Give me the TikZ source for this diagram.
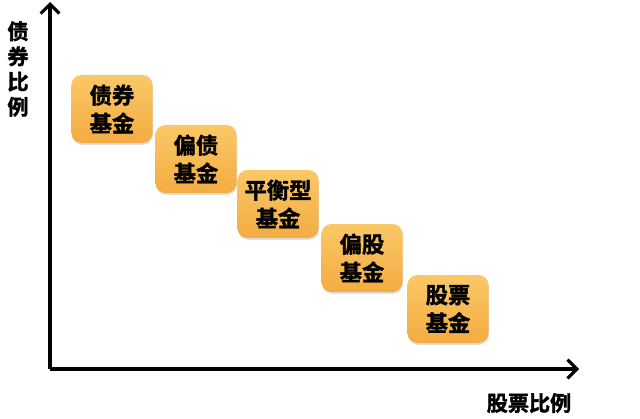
\documentclass[tikz,border=0pt]{standalone}
\usepackage{fontspec}
\newfontfamily\cjk{Noto Sans CJK SC}[BoldFont={Noto Sans CJK SC Bold}, BoldFeatures={FakeBold=1.8}]
\usetikzlibrary{arrows.meta,shadows}
\definecolor{boxtop}{HTML}{FAC866}
\definecolor{boxbot}{HTML}{F3AC42}
\begin{document}
\begin{tikzpicture}[x=0.03cm, y=-0.03cm,
    fund/.style={rounded corners=0.3cm, top color=boxtop, bottom color=boxbot,
        minimum width=2.43cm, minimum height=2.04cm, align=center,
        font=\cjk\bfseries\fontsize{19}{24}\selectfont,
        drop shadow={opacity=0.25, shadow xshift=0.5pt, shadow yshift=-1.5pt}},
    axis/.style={line width=3pt, -{Straight Barb[length=8pt, width=16pt, line width=2.6pt]}},
    axlabel/.style={align=center, font=\cjk\bfseries\fontsize{18}{21.5}\selectfont}]
    \useasboundingbox (0,0) rectangle (640,419);

    \coordinate (o) at (50,369);
    \coordinate (ytip) at (50,2);
    \coordinate (xtip) at (579,369);
    \draw[axis] (o) -- (ytip);
    \draw[axis] (o) -- (xtip);

    \node[axlabel] (ylab) at (18,69) {债\\券\\比\\例};
    \node[axlabel] (xlab) at (529,403) {股票比例};

    \foreach \n/\x/\y/\t in {1/112/109/债券\\基金, 2/196/159/偏债\\基金,
        3/278/204/平衡型\\基金, 4/362/258/偏股\\基金, 5/448/309/股票\\基金}
        \node[fund] (fund\n) at (\x,\y) {\t};
\end{tikzpicture}
\end{document}
